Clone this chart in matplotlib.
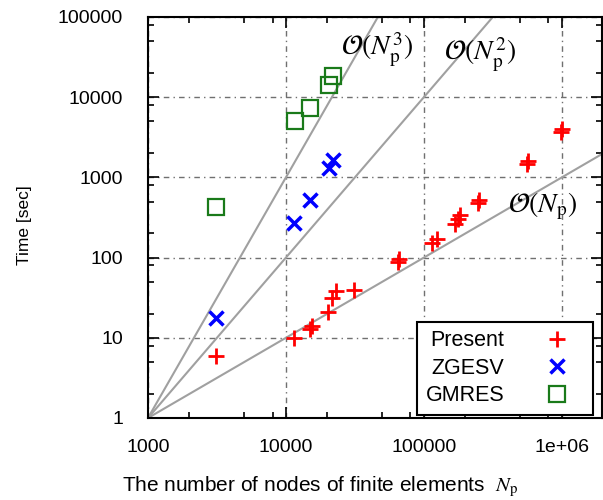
import numpy as np
import matplotlib.pyplot as plt
from matplotlib.ticker import FixedLocator, LogLocator, NullFormatter

plt.rcParams['font.family'] = ['Liberation Sans', 'DejaVu Sans']
plt.rcParams['mathtext.fontset'] = 'stix'

# Datos
np_present = [3100, 11500, 15000, 15400, 20300, 21600, 23000, 31200, 65000, 65500,
              115000, 124700, 169000, 177000, 184000, 247000, 250000,
              555000, 565000, 990000, 1010000]
t_present = [6, 10, 13, 14, 21, 31, 38, 40, 89, 96,
             150, 169, 265, 305, 340, 480, 520,
             1450, 1600, 3650, 4000]

np_zgesv = [3100, 11500, 15000, 20400, 22100]
t_zgesv = [17.5, 270, 530, 1300, 1650]

np_gmres = [3100, 11700, 15000, 20400, 21800]
t_gmres = [430, 5100, 7300, 14200, 18500]

# Rectas de referencia O(N^k) que pasan por (1000, 1)
orders = [1, 2, 3]
ref_labels = [r'$\mathcal{O}(N_\mathrm{p})$', r'$\mathcal{O}(N_\mathrm{p}^2)$',
              r'$\mathcal{O}(N_\mathrm{p}^3)$']
ref_text_pos = [(4.1e5, 430), (1.39e5, 3.5e4), (2.5e4, 4.0e4)]

x_ticks = [1e3, 1e4, 1e5, 1e6]
x_ticklabels = ['1000', '10000', '100000', '1e+06']
y_ticks = [1, 10, 100, 1000, 10000, 100000]
y_ticklabels = ['1', '10', '100', '1000', '10000', '100000']

fig = plt.figure(figsize=(6.03, 5.0), dpi=100)
ax = fig.add_axes([0.2454, 0.164, 0.7526, 0.802])

xmax = 1.95e6
xr = np.array([1e3, xmax])
for k in orders:
    ax.plot(xr, (xr / 1e3) ** k, color='#a0a0a0', lw=1.5, zorder=2)

for (tx, ty), lab in zip(ref_text_pos, ref_labels):
    ax.text(tx, ty, lab, fontsize=20, ha='left', va='center', zorder=3)

ax.plot(np_present, t_present, '+', color='red', ms=11, mew=2, ls='none',
        label='Present', zorder=4)
ax.plot(np_zgesv, t_zgesv, 'x', color='blue', ms=10, mew=2.5, ls='none',
        label='ZGESV', zorder=4)
ax.plot(np_gmres, t_gmres, 's', color='#1a7a1a', mfc='none', ms=11, mew=1.6,
        ls='none', label='GMRES', zorder=4)

ax.set_xscale('log')
ax.set_yscale('log')
ax.set_xlim(1e3, xmax)
ax.set_ylim(1, 1e5)

ax.xaxis.set_major_locator(FixedLocator(x_ticks))
ax.set_xticklabels(x_ticklabels)
ax.yaxis.set_major_locator(FixedLocator(y_ticks))
ax.set_yticklabels(y_ticklabels)
ax.xaxis.set_minor_locator(LogLocator(base=10, subs=[2, 5, 8]))
ax.yaxis.set_minor_locator(LogLocator(base=10, subs=[2, 5, 8]))
ax.xaxis.set_minor_formatter(NullFormatter())
ax.yaxis.set_minor_formatter(NullFormatter())

ax.tick_params(which='both', direction='in', top=True, right=True, labelsize=14,
               width=1.2)
ax.tick_params(which='major', length=8)
ax.tick_params(which='minor', length=4)
ax.tick_params(axis='x', which='major', pad=15)
ax.tick_params(axis='y', which='major', pad=18)
for s in ax.spines.values():
    s.set_linewidth(1.5)

ax.grid(True, which='major', color='#707070', ls=(0, (4, 3, 1, 3)), lw=1)

ax.set_xlabel(r'The number of nodes of finite elements  $N_\mathrm{p}$', fontsize=15)
ax.xaxis.set_label_coords(0.379, -0.142)
ax.set_ylabel('Time [sec]', fontsize=12.5)
ax.yaxis.set_label_coords(-0.2555, 0.481)

leg = ax.legend(loc='lower right', bbox_to_anchor=(0.980, 0.0075), borderaxespad=0,
                markerfirst=False, fontsize=15.5, frameon=True,
                fancybox=False, edgecolor='black', framealpha=1,
                handlelength=2.5, handletextpad=1.2, labelspacing=0.3,
                borderpad=0.4)
leg.get_frame().set_linewidth(1.5)

plt.savefig('out.png', dpi=100)
